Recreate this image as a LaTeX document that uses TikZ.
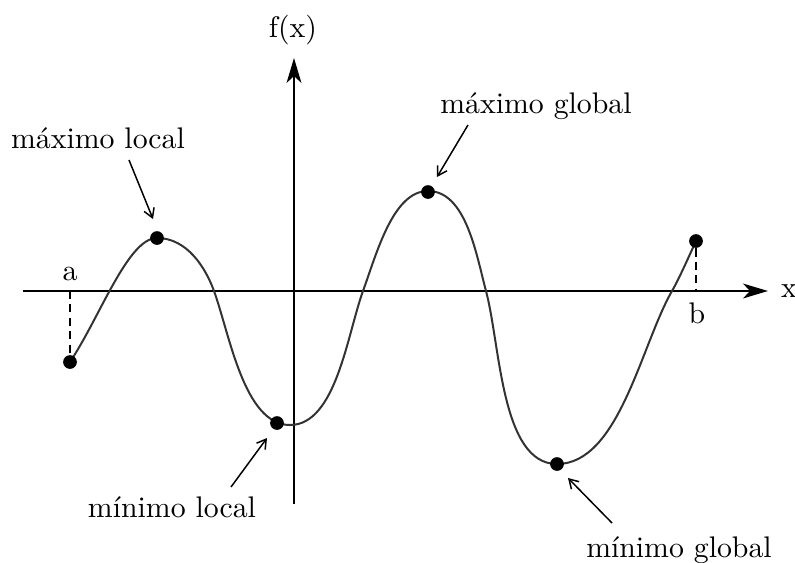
\documentclass[tikz,border=0pt]{standalone}
\usepackage{fontspec}
\usetikzlibrary{arrows.meta}
\begin{document}
\begin{tikzpicture}[x=0.3356pt,y=-0.3356pt,
  axisline/.style={line width=0.74pt,-{Stealth[length=8.4pt,width=5pt,inset=2.4pt]}},
  curveline/.style={line width=0.67pt,black!80},
  ptr/.style={line width=0.5pt,-{Straight Barb[length=3pt,width=3.6pt]}},
  guide/.style={line width=0.45pt,dash pattern=on 2.7pt off 1.8pt},
  dot/.style={circle,fill=black,inner sep=0pt,minimum size=4.6pt},
  lbl/.style={inner sep=0pt,anchor=base,font=\fontsize{10}{12}\selectfont}]
\useasboundingbox (0,0) rectangle (795,563);
% axes
\coordinate (xs) at (23,291);
\coordinate (xe) at (768,291);
\coordinate (ys) at (294,504);
\coordinate (ye) at (294,58);
\draw[axisline] (xs) -- (xe);
\draw[axisline] (ys) -- (ye);
\node[lbl] (xl) at (789,297) {x};
\node[lbl] (fl) at (293,37) {f(x)};
% curve
\draw[curveline] (70,362) .. controls (100,317) and (128,238) .. (157,238)
  .. controls (187,238) and (205.5,267.5) .. (214,291)
  .. controls (229.7,334.2) and (244,425) .. (290,425)
  .. controls (336,425) and (347.3,334.2) .. (363,291)
  .. controls (376.7,253.4) and (393,191) .. (428,191)
  .. controls (466,191) and (476.2,254.3) .. (486,291)
  .. controls (500.5,345.1) and (501,464) .. (557,464)
  .. controls (619,464) and (641,345) .. (672,291)
  .. controls (679.5,278) and (689.7,254.6) .. (696,241);
% points
\node[dot] (pa) at (70,362) {};
\node[dot] (pmaxl) at (157,238) {};
\node[dot] (pminl) at (277,423) {};
\node[dot] (pmaxg) at (428,192) {};
\node[dot] (pming) at (557,464) {};
\node[dot] (pb) at (696,241) {};
% a and b
\coordinate (ax) at (70,291);
\coordinate (bx) at (696,291);
\draw[guide] (ax) -- (pa);
\draw[guide] (pb) -- (bx);
\node[lbl] (al) at (70,280) {a};
\node[lbl] (bl) at (697,323) {b};
% labels
\node[lbl] (lmaxl) at (98,148) {máximo local};
\node[lbl] (lmaxg) at (536,113) {máximo global};
\node[lbl] (lminl) at (172,517) {mínimo local};
\node[lbl] (lming) at (679,557) {mínimo global};
% pointers
\coordinate (s1) at (129,160); \coordinate (t1) at (153,219);
\coordinate (s2) at (468,125); \coordinate (t2) at (437,177);
\coordinate (s3) at (231,487); \coordinate (t3) at (267,438);
\coordinate (s4) at (612,523); \coordinate (t4) at (568,478);
\draw[ptr] (s1) -- (t1);
\draw[ptr] (s2) -- (t2);
\draw[ptr] (s3) -- (t3);
\draw[ptr] (s4) -- (t4);
\end{tikzpicture}
\end{document}
